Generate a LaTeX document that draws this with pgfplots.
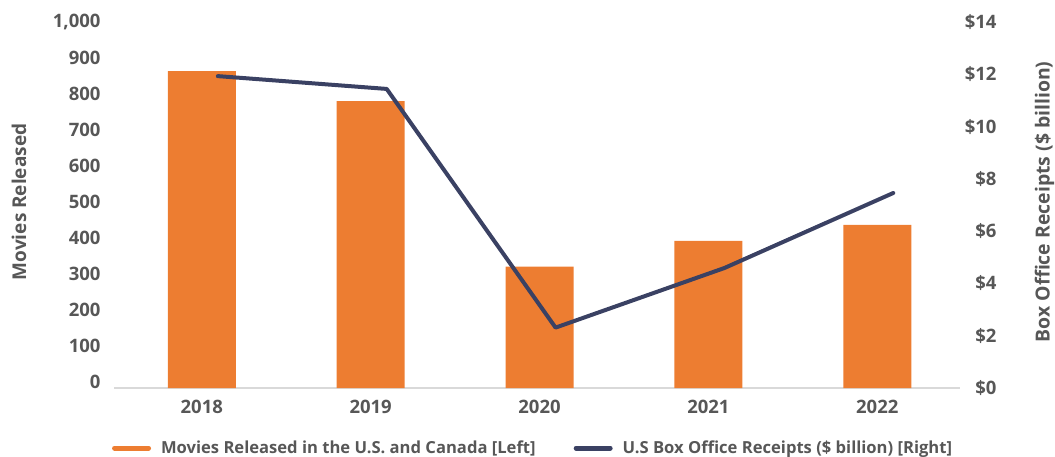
\documentclass[border=0pt]{standalone}
\usepackage{pgfplots}
\pgfplotsset{compat=1.18}
\usepackage{fontspec}
\setmainfont{Open Sans}
\definecolor{barorange}{HTML}{ED7D31}
\definecolor{navy}{HTML}{3A4163}
\definecolor{txt}{HTML}{575757}
\definecolor{axisgray}{HTML}{D9D9D9}
\begin{document}
\begin{tikzpicture}
\path[use as bounding box] (0,0) rectangle (1055pt,456pt);
\begin{axis}[
  at={(114.3pt,68pt)}, anchor=south west,
  scale only axis, width=845.7pt, height=366pt,
  xmin=-0.518, xmax=4.49,
  ymin=0, ymax=1016.7,
  axis y line*=left, axis x line*=bottom,
  y axis line style={draw=none},
  x axis line style={draw=axisgray, line width=1.5pt, -},
  xtick={0,1,2,3,4}, xticklabels={2018,2019,2020,2021,2022},
  ytick={0,100,...,1000},
  yticklabels={0,100,200,300,400,500,600,700,800,900,{1,000}},
  major tick length=0pt,
  tick style={draw=none},
  xticklabel style={anchor=north, inner sep=0pt, yshift=-12.3pt, font=\fontsize{18.5}{21}\selectfont\bfseries, text=txt},
  yticklabel style={anchor=east, inner sep=0pt, xshift=-13.6pt, yshift=6pt, font=\fontsize{18.5}{21}\selectfont\bfseries, text=txt},
  ylabel={Movies Released},
  ylabel style={at={(axis description cs:-0.1127,0.5085)}, rotate=0, anchor=center, font=\fontsize{19}{22}\selectfont\bfseries, text=txt},
]
\addplot[ybar, bar width=68pt, fill=barorange, draw=none] coordinates {(0,880) (1,797) (2,337) (3,409) (4,453)};
\end{axis}
\begin{axis}[
  at={(114.3pt,68pt)}, anchor=south west,
  scale only axis, width=845.7pt, height=366pt,
  xmin=-0.518, xmax=4.49,
  ymin=0, ymax=14,
  axis y line*=right, axis x line=none,
  y axis line style={draw=none},
  ytick={0,2,...,14},
  yticklabels={\$0,\$2,\$4,\$6,\$8,\$10,\$12,\$14},
  major tick length=0pt,
  tick style={draw=none},
  yticklabel style={anchor=east, inner sep=0pt, xshift=36.7pt, font=\fontsize{18.5}{21}\selectfont\bfseries, text=txt},
  ylabel={Box Office Receipts (\$ billion)},
  ylabel style={at={(axis description cs:1.0998,0.5085)}, anchor=center, font=\fontsize{19.4}{22}\selectfont\bfseries, text=txt},
  legend columns=2,
  legend style={at={(axis description cs:-0.0029,-0.164)}, anchor=west, draw=none, fill=none, inner sep=0pt,
    font=\fontsize{16.6}{20}\selectfont\bfseries, text=txt,
    nodes={inner xsep=2pt},
    /tikz/every odd column/.append style={column sep=8pt},
    /tikz/every even column/.append style={column sep=36pt}},
  legend image code/.code={\draw[#1, line width=5pt, line cap=round] (2.5pt,0pt) -- (36.5pt,0pt);},
]
\addlegendimage{barorange}
\addlegendentry{Movies Released in the U.S. and Canada [Left]}
\addplot[navy, line width=4pt, line join=round, line cap=round] coordinates {(0.095,11.93) (1.095,11.44) (2.095,2.31) (3.095,4.59) (4.095,7.46)};
\addlegendentry{U.S Box Office Receipts (\$ billion) [Right]}
\end{axis}
\end{tikzpicture}
\end{document}
